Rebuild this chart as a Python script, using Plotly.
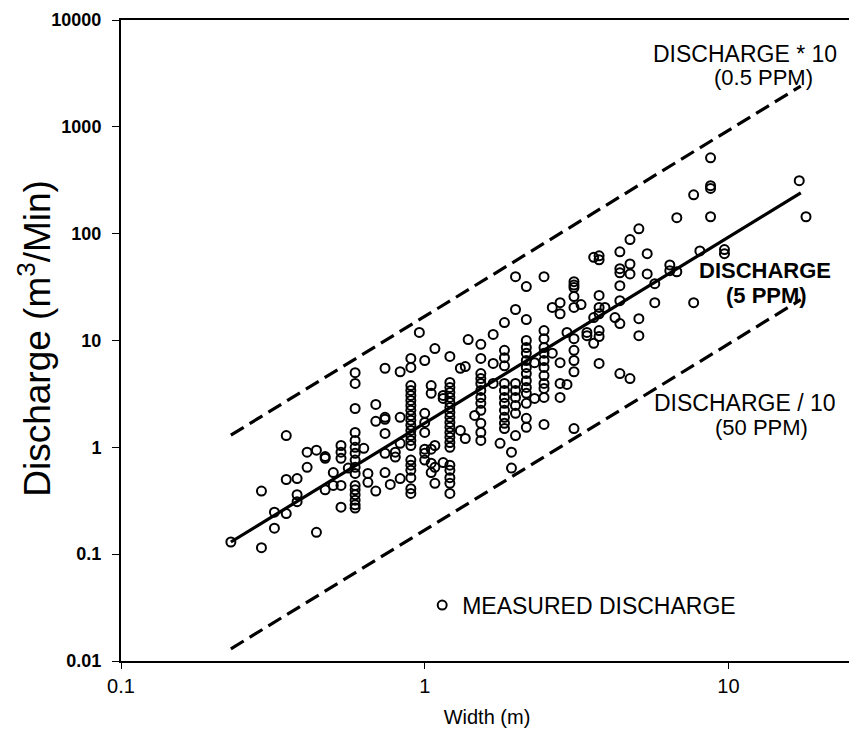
import plotly.graph_objects as go

# Measured discharge: width (m) and discharge (m3/min), grouped by width column
width = (
    [0.23] + [0.29]*2 + [0.32]*2 + [0.35]*3 + [0.38]*3 + [0.41]*2 + [0.44]*2 + [0.47]*3 + [0.50]*2
    + [0.53]*5 + [0.56] + [0.59]*16 + [0.63] + [0.65]*2 + [0.69]*3 + [0.74]*6 + [0.77] + [0.80]*2
    + [0.83]*4 + [0.90]*21 + [0.96] + [1.0]*7 + [1.05]*5 + [1.08]*4 + [1.15]*3 + [1.21]*20
    + [1.31]*2 + [1.36]*2 + [1.39] + [1.46] + [1.53]*12 + [1.68]*3 + [1.77] + [1.83]*12 + [1.93]*2
    + [1.99]*8 + [2.16]*14 + [2.30]*2 + [2.47]*12 + [2.63]*2 + [2.79]*5 + [2.94]*2 + [3.1]*10
    + [3.27] + [3.42]*2 + [3.6]*3 + [3.75]*8 + [3.92] + [4.23] + [4.39]*7 + [4.74]*4 + [5.07]*3
    + [5.4]*2 + [5.72]*2 + [6.41]*2 + [6.76]*2 + [7.68]*2 + [8.05] + [8.73]*4 + [9.7]*2 + [17.1] + [18.0]
)
discharge = (
    [0.13]
    + [0.39, 0.115]
    + [0.247, 0.175]
    + [1.29, 0.50, 0.24]
    + [0.51, 0.36, 0.31]
    + [0.90, 0.65]
    + [0.94, 0.16]
    + [0.82, 0.79, 0.40]
    + [0.58, 0.44]
    + [1.04, 0.90, 0.79, 0.44, 0.275]
    + [0.64]
    + [5.0, 3.96, 2.31, 1.38, 1.16, 1.0, 0.88, 0.76, 0.65, 0.57, 0.44, 0.40, 0.36, 0.32, 0.29, 0.27]
    + [0.98]
    + [0.57, 0.47]
    + [2.52, 1.75, 0.39]
    + [5.5, 1.91, 1.83, 1.35, 0.88, 0.58]
    + [0.45]
    + [0.90, 0.81]
    + [5.1, 1.91, 1.09, 0.51]
    + [6.8, 5.6, 3.79, 3.41, 3.06, 2.75, 2.47, 2.22, 1.99, 1.79, 1.61, 1.44, 1.29, 1.16, 1.04,
       0.76, 0.68, 0.61, 0.52, 0.41, 0.37]
    + [11.9]
    + [6.5, 2.08, 1.71, 1.38, 0.96, 0.88, 0.76]
    + [3.79, 3.2, 0.96, 0.71, 0.58]
    + [8.4, 1.04, 0.65, 0.46]
    + [3.06, 2.87, 0.72]
    + [7.1, 4.05, 3.64, 3.26, 2.93, 2.63, 2.36, 2.12, 1.91, 1.71, 1.54, 1.38, 1.24, 1.11, 1.0,
       0.68, 0.61, 0.52, 0.46, 0.37]
    + [5.5, 1.44]
    + [5.7, 1.21]
    + [10.2]
    + [1.99]
    + [9.2, 6.8, 4.9, 4.4, 3.96, 3.41, 2.93, 2.58, 2.22, 1.68, 1.38, 1.16]
    + [11.4, 6.1, 3.96]
    + [1.09]
    + [14.7, 8.1, 6.9, 5.8, 3.96, 3.41, 2.93, 2.58, 2.22, 1.91, 1.68, 1.50]
    + [0.90, 0.64]
    + [39.6, 19.5, 3.96, 3.41, 2.93, 2.47, 2.08, 1.29]
    + [32.0, 15.7, 10.0, 8.6, 7.6, 6.5, 5.6, 4.9, 4.2, 3.64, 3.2, 2.58, 1.87, 1.54]
    + [6.2, 2.87]
    + [39.6, 12.4, 10.4, 8.6, 7.6, 6.5, 5.6, 4.7, 3.96, 3.56, 2.93, 1.64]
    + [20.4, 7.6]
    + [22.6, 17.8, 6.2, 3.96, 2.93]
    + [11.9, 3.88]
    + [35.5, 33.0, 31.3, 25.8, 20.4, 10.4, 8.1, 6.5, 5.1, 1.50]
    + [21.7]
    + [11.9, 11.1]
    + [60.0, 16.4, 9.4]
    + [62.0, 57.0, 26.4, 20.4, 17.8, 12.4, 10.9, 6.1]
    + [20.4]
    + [16.4]
    + [67.6, 47.0, 43.0, 32.6, 23.6, 14.4, 4.9]
    + [88.0, 52.0, 42.0, 4.4]
    + [111.0, 16.0, 11.1]
    + [65.0, 42.0]
    + [34.0, 22.6]
    + [51.0, 45.0]
    + [141.0, 44.0]
    + [231.0, 22.6]
    + [69.0]
    + [513.0, 281.0, 265.0, 144.0]
    + [71.0, 65.0]
    + [313.0]
    + [144.0]
)

# Reference lines (end points)
line_width = [0.23, 17.3]
line_5ppm = [0.13, 241.0]
line_05ppm = [1.3, 2410.0]
line_50ppm = [0.013, 24.1]

x_ticks = [0.1, 1, 10]
x_tick_labels = ["0.1", "1", "10"]
y_ticks = [0.01, 0.1, 1, 10, 100, 1000, 10000]
y_tick_labels = ["0.01", "0.1", "1", "10", "100", "1000", "10000"]

FONT = "Liberation Sans, Arial, sans-serif"

# figure geometry (figure is drawn 8px in from the page corner by the page margin)
OFF = 8
W, H = 849, 740
L, R, T, B = 113, 847, 11, 653


def px(xp, yp):
    """page pixel position -> paper coordinates"""
    return ((xp - OFF) - L) / (R - L), (B - (yp - OFF)) / (B - T)


fig = go.Figure()
dash = dict(color="black", width=3.2, dash="15px,7px")
fig.add_trace(go.Scatter(x=line_width, y=line_05ppm, mode="lines", line=dash,
                         showlegend=False, hoverinfo="skip"))
fig.add_trace(go.Scatter(x=line_width, y=line_50ppm, mode="lines", line=dash,
                         showlegend=False, hoverinfo="skip"))
fig.add_trace(go.Scatter(x=line_width, y=line_5ppm, mode="lines",
                         line=dict(color="black", width=3.2), showlegend=False, hoverinfo="skip"))
fig.add_trace(go.Scatter(
    x=width, y=discharge, mode="markers", name="MEASURED DISCHARGE",
    marker=dict(symbol="circle-open", size=9, color="black", line=dict(width=2, color="black"))))

annots = [
    ("DISCHARGE * 10", 747, 53, 23),
    ("(0.5 PPM)", 765, 77, 22),
    ("<b>DISCHARGE</b>", 767, 270, 22),
    ("<b>(5 PPM)</b>", 768, 295, 22),
    ("DISCHARGE / 10", 747, 403, 23),
    ("(50 PPM)", 763, 427, 22),
]
for text, xp, yp, size in annots:
    ax, ay = px(xp, yp)
    fig.add_annotation(text=text, xref="paper", yref="paper", x=ax, y=ay,
                       xanchor="center", yanchor="middle", showarrow=False,
                       font=dict(family=FONT, size=size, color="black"))

# y-axis title
tx, ty = px(35, 338)
fig.add_annotation(text="Discharge (m<sup>3</sup>/Min)", xref="paper", yref="paper",
                   x=tx, y=ty, xanchor="center", yanchor="middle", textangle=-90,
                   showarrow=False, font=dict(family=FONT, size=37, color="black"))

lx, ly = px(423, 605)
fig.update_layout(
    width=W, height=H,
    margin=dict(l=L, r=W - R, t=T, b=H - B),
    paper_bgcolor="white", plot_bgcolor="white",
    font=dict(family=FONT, color="black"),
    showlegend=True,
    legend=dict(x=lx, y=ly, xanchor="left", yanchor="middle",
                bgcolor="rgba(0,0,0,0)", font=dict(size=23, family=FONT), itemwidth=30),
    xaxis=dict(type="log", range=[-1, 1.41], tickvals=x_ticks, ticktext=x_tick_labels,
               ticks="outside", ticklen=6, tickcolor="black", showgrid=False, zeroline=False,
               showline=True, linecolor="black", linewidth=2, mirror=True,
               tickfont=dict(size=20, family=FONT),
               title=dict(text="Width (m)", font=dict(size=20, family=FONT), standoff=14)),
    yaxis=dict(type="log", range=[-2, 4], tickvals=y_ticks,
               ticktext=["<b>%s</b>" % t for t in y_tick_labels],
               ticks="outside", ticklen=7, tickcolor="black", showgrid=False, zeroline=False,
               showline=True, linecolor="black", linewidth=2, mirror=True,
               ticklabelstandoff=7,
               tickfont=dict(size=18, family=FONT)),
)

fig.write_html("out.html")
